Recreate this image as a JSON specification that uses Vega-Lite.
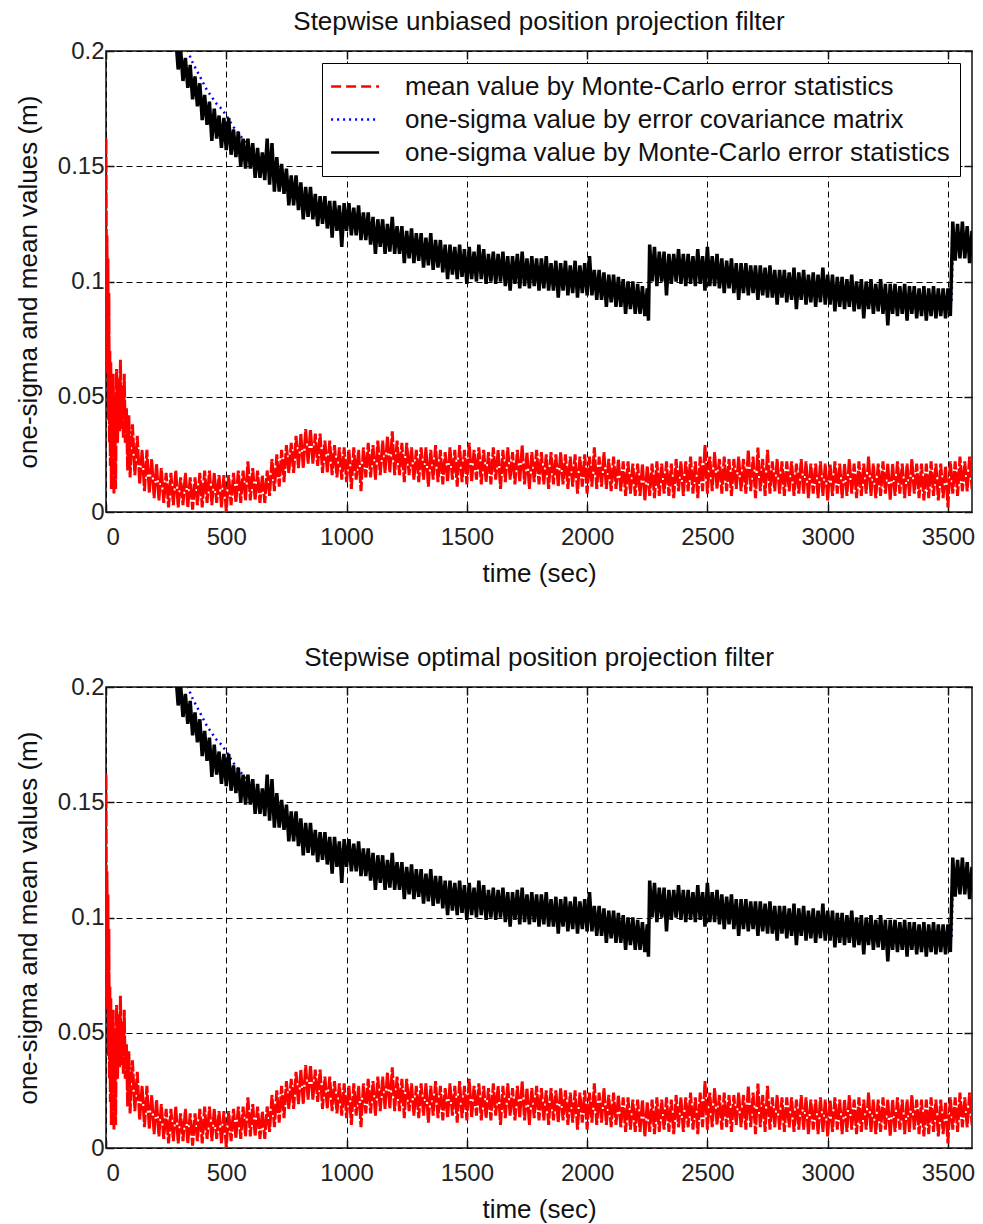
{
"$schema": "https://vega.github.io/schema/vega-lite/v6.json",
"padding": {"left": 14, "top": 8, "right": 5, "bottom": 5},
"config": {
  "font": "Liberation Sans",
  "view": {"stroke": "#111", "strokeWidth": 1.5},
  "axis": {"labelFontSize": 24, "titleFontSize": 26, "titleFontWeight": "normal", "labelColor": "#222", "titleColor": "#111", "gridColor": "#000", "gridDash": [6,4], "gridOpacity": 1, "gridWidth": 1, "tickColor": "#111", "tickSize": -8, "tickWidth": 1.5, "domain": false},
  "title": {"fontSize": 26, "fontWeight": "normal", "color": "#111", "offset": 4},
  "concat": {"spacing": 57}
},
"datasets": {
"red": [{"t":0,"v":0.162},{"t":2,"v":0.100},{"t":4,"v":0.120},{"t":6,"v":0.060},{"t":8,"v":0.110},{"t":10,"v":0.040},{"t":12,"v":0.095},{"t":14,"v":0.030},{"t":16,"v":0.070},{"t":18,"v":0.020},{"t":20,"v":0.065},{"t":22,"v":0.010},{"t":25,"v":0.055},{"t":28,"v":0.025},{"t":30,"v":0.060},{"t":33,"v":0.008},{"t":36,"v":0.050},{"t":40,"v":0.010},{"t":44,"v":0.062},{"t":48,"v":0.030},{"t":52,"v":0.058},{"t":56,"v":0.035},{"t":60,"v":0.066},{"t":64,"v":0.036},{"t":68,"v":0.055},{"t":72,"v":0.032},{"t":76,"v":0.060},{"t":80,"v":0.030},{"t":85,"v":0.045},{"t":90,"v":0.018},{"t":95,"v":0.042},{"t":100,"v":0.015},
{"t":110,"v":0.038},{"t":120,"v":0.016},{"t":130,"v":0.033},{"t":140,"v":0.012},{"t":150,"v":0.027},{"t":160,"v":0.009},{"t":170,"v":0.027},{"t":180,"v":0.008},{"t":190,"v":0.023},{"t":200,"v":0.006},{"t":210,"v":0.021},{"t":220,"v":0.005},{"t":230,"v":0.019},{"t":240,"v":0.004},{"t":250,"v":0.017},{"t":260,"v":0.002},{"t":270,"v":0.017},{"t":280,"v":0.003},{"t":290,"v":0.018},{"t":300,"v":0.002},{"t":310,"v":0.015},{"t":320,"v":0.003},{"t":330,"v":0.017},{"t":340,"v":0.002},{"t":350,"v":0.015},{"t":360,"v":0.001},{"t":370,"v":0.015},{"t":380,"v":0.003},{"t":390,"v":0.017},{"t":400,"v":0.002},{"t":410,"v":0.018},{"t":420,"v":0.004},{"t":430,"v":0.018},{"t":440,"v":0.003},{"t":450,"v":0.017},{"t":460,"v":0.004},{"t":470,"v":0.016},{"t":480,"v":0.002},{"t":490,"v":0.016},{"t":500,"v":0.000},{"t":510,"v":0.016},{"t":520,"v":0.003},{"t":530,"v":0.017},{"t":540,"v":0.004},{"t":550,"v":0.018},{"t":560,"v":0.004},{"t":570,"v":0.018},{"t":580,"v":0.005},{"t":590,"v":0.022},{"t":600,"v":0.005},{"t":610,"v":0.019},{"t":620,"v":0.005},{"t":630,"v":0.018},{"t":640,"v":0.004},{"t":650,"v":0.016},{"t":660,"v":0.004},{"t":670,"v":0.018},{"t":680,"v":0.007},{"t":690,"v":0.023},{"t":700,"v":0.009},{"t":710,"v":0.025},{"t":720,"v":0.011},{"t":730,"v":0.027},{"t":740,"v":0.013},{"t":750,"v":0.029},{"t":760,"v":0.017},{"t":770,"v":0.030},{"t":780,"v":0.017},{"t":790,"v":0.033},{"t":800,"v":0.019},{"t":810,"v":0.034},{"t":820,"v":0.019},{"t":830,"v":0.036},{"t":840,"v":0.021},{"t":850,"v":0.036},{"t":860,"v":0.021},{"t":870,"v":0.034},{"t":880,"v":0.020},{"t":890,"v":0.034},{"t":900,"v":0.017},{"t":910,"v":0.031},{"t":920,"v":0.017},{"t":930,"v":0.031},{"t":940,"v":0.016},{"t":950,"v":0.029},{"t":960,"v":0.015},{"t":970,"v":0.028},{"t":980,"v":0.014},{"t":990,"v":0.028},{"t":1000,"v":0.013},{"t":1010,"v":0.027},{"t":1020,"v":0.010},{"t":1030,"v":0.028},{"t":1040,"v":0.014},{"t":1050,"v":0.027},{"t":1060,"v":0.009},{"t":1070,"v":0.028},{"t":1080,"v":0.015},{"t":1090,"v":0.030},{"t":1100,"v":0.015},{"t":1110,"v":0.029},{"t":1120,"v":0.014},{"t":1130,"v":0.031},{"t":1140,"v":0.016},{"t":1150,"v":0.031},{"t":1160,"v":0.017},{"t":1170,"v":0.033},{"t":1180,"v":0.017},{"t":1190,"v":0.035},{"t":1200,"v":0.016},{"t":1210,"v":0.031},{"t":1220,"v":0.016},{"t":1230,"v":0.030},{"t":1240,"v":0.013},{"t":1250,"v":0.030},{"t":1260,"v":0.016},{"t":1270,"v":0.028},{"t":1280,"v":0.014},{"t":1290,"v":0.027},{"t":1300,"v":0.013},{"t":1310,"v":0.028},{"t":1320,"v":0.014},{"t":1330,"v":0.028},{"t":1340,"v":0.011},{"t":1350,"v":0.027},{"t":1360,"v":0.014},{"t":1370,"v":0.029},{"t":1380,"v":0.013},{"t":1390,"v":0.027},{"t":1400,"v":0.012},{"t":1410,"v":0.026},{"t":1420,"v":0.013},{"t":1430,"v":0.028},{"t":1440,"v":0.014},{"t":1450,"v":0.027},{"t":1460,"v":0.011},{"t":1470,"v":0.029},{"t":1480,"v":0.013},{"t":1490,"v":0.027},{"t":1500,"v":0.012},{"t":1510,"v":0.030},{"t":1520,"v":0.013},{"t":1530,"v":0.027},{"t":1540,"v":0.014},{"t":1550,"v":0.028},{"t":1560,"v":0.012},{"t":1570,"v":0.027},{"t":1580,"v":0.013},{"t":1590,"v":0.026},{"t":1600,"v":0.012},{"t":1610,"v":0.028},{"t":1620,"v":0.014},{"t":1630,"v":0.027},{"t":1640,"v":0.010},{"t":1650,"v":0.027},{"t":1660,"v":0.013},{"t":1670,"v":0.028},{"t":1680,"v":0.014},{"t":1690,"v":0.026},{"t":1700,"v":0.012},{"t":1710,"v":0.027},{"t":1720,"v":0.013},{"t":1730,"v":0.029},{"t":1740,"v":0.012},{"t":1750,"v":0.026},{"t":1760,"v":0.010},{"t":1770,"v":0.026},{"t":1780,"v":0.013},{"t":1790,"v":0.027},{"t":1800,"v":0.012},{"t":1810,"v":0.026},{"t":1820,"v":0.012},{"t":1830,"v":0.025},{"t":1840,"v":0.010},{"t":1850,"v":0.026},{"t":1860,"v":0.012},{"t":1870,"v":0.025},{"t":1880,"v":0.011},{"t":1890,"v":0.026},{"t":1900,"v":0.012},{"t":1910,"v":0.025},{"t":1920,"v":0.010},{"t":1930,"v":0.024},{"t":1940,"v":0.011},{"t":1950,"v":0.025},{"t":1960,"v":0.008},{"t":1970,"v":0.024},{"t":1980,"v":0.011},{"t":1990,"v":0.025},{"t":2000,"v":0.008},{"t":2010,"v":0.024},{"t":2020,"v":0.011},{"t":2030,"v":0.028},{"t":2040,"v":0.010},{"t":2050,"v":0.024},{"t":2060,"v":0.011},{"t":2070,"v":0.026},{"t":2080,"v":0.010},{"t":2090,"v":0.023},{"t":2100,"v":0.009},{"t":2110,"v":0.024},{"t":2120,"v":0.010},{"t":2130,"v":0.023},{"t":2140,"v":0.009},{"t":2150,"v":0.022},{"t":2160,"v":0.007},{"t":2170,"v":0.022},{"t":2180,"v":0.008},{"t":2190,"v":0.021},{"t":2200,"v":0.007},{"t":2210,"v":0.021},{"t":2220,"v":0.007},{"t":2230,"v":0.021},{"t":2240,"v":0.005},{"t":2250,"v":0.020},{"t":2260,"v":0.007},{"t":2270,"v":0.021},{"t":2280,"v":0.006},{"t":2290,"v":0.022},{"t":2300,"v":0.007},{"t":2310,"v":0.021},{"t":2320,"v":0.008},{"t":2330,"v":0.022},{"t":2340,"v":0.007},{"t":2350,"v":0.021},{"t":2360,"v":0.006},{"t":2370,"v":0.023},{"t":2380,"v":0.009},{"t":2390,"v":0.022},{"t":2400,"v":0.007},{"t":2410,"v":0.022},{"t":2420,"v":0.009},{"t":2430,"v":0.024},{"t":2440,"v":0.008},{"t":2450,"v":0.022},{"t":2460,"v":0.006},{"t":2470,"v":0.024},{"t":2480,"v":0.009},{"t":2490,"v":0.029},{"t":2500,"v":0.008},{"t":2510,"v":0.024},{"t":2520,"v":0.009},{"t":2530,"v":0.026},{"t":2540,"v":0.010},{"t":2550,"v":0.023},{"t":2560,"v":0.008},{"t":2570,"v":0.024},{"t":2580,"v":0.009},{"t":2590,"v":0.023},{"t":2600,"v":0.007},{"t":2610,"v":0.023},{"t":2620,"v":0.010},{"t":2630,"v":0.024},{"t":2640,"v":0.009},{"t":2650,"v":0.023},{"t":2660,"v":0.008},{"t":2670,"v":0.027},{"t":2680,"v":0.009},{"t":2690,"v":0.024},{"t":2700,"v":0.006},{"t":2710,"v":0.028},{"t":2720,"v":0.009},{"t":2730,"v":0.023},{"t":2740,"v":0.007},{"t":2750,"v":0.027},{"t":2760,"v":0.008},{"t":2770,"v":0.022},{"t":2780,"v":0.009},{"t":2790,"v":0.023},{"t":2800,"v":0.008},{"t":2810,"v":0.022},{"t":2820,"v":0.007},{"t":2830,"v":0.022},{"t":2840,"v":0.009},{"t":2850,"v":0.022},{"t":2860,"v":0.007},{"t":2870,"v":0.021},{"t":2880,"v":0.008},{"t":2890,"v":0.023},{"t":2900,"v":0.008},{"t":2910,"v":0.022},{"t":2920,"v":0.006},{"t":2930,"v":0.021},{"t":2940,"v":0.008},{"t":2950,"v":0.021},{"t":2960,"v":0.006},{"t":2970,"v":0.022},{"t":2980,"v":0.007},{"t":2990,"v":0.021},{"t":3000,"v":0.005},{"t":3010,"v":0.021},{"t":3020,"v":0.007},{"t":3030,"v":0.022},{"t":3040,"v":0.008},{"t":3050,"v":0.021},{"t":3060,"v":0.006},{"t":3070,"v":0.021},{"t":3080,"v":0.007},{"t":3090,"v":0.023},{"t":3100,"v":0.008},{"t":3110,"v":0.021},{"t":3120,"v":0.006},{"t":3130,"v":0.022},{"t":3140,"v":0.007},{"t":3150,"v":0.021},{"t":3160,"v":0.008},{"t":3170,"v":0.024},{"t":3180,"v":0.007},{"t":3190,"v":0.021},{"t":3200,"v":0.006},{"t":3210,"v":0.021},{"t":3220,"v":0.007},{"t":3230,"v":0.022},{"t":3240,"v":0.008},{"t":3250,"v":0.021},{"t":3260,"v":0.005},{"t":3270,"v":0.021},{"t":3280,"v":0.007},{"t":3290,"v":0.022},{"t":3300,"v":0.008},{"t":3310,"v":0.021},{"t":3320,"v":0.006},{"t":3330,"v":0.021},{"t":3340,"v":0.007},{"t":3350,"v":0.023},{"t":3360,"v":0.008},{"t":3370,"v":0.021},{"t":3380,"v":0.006},{"t":3390,"v":0.021},{"t":3400,"v":0.005},{"t":3410,"v":0.021},{"t":3420,"v":0.006},{"t":3430,"v":0.022},{"t":3440,"v":0.007},{"t":3450,"v":0.021},{"t":3460,"v":0.005},{"t":3470,"v":0.021},{"t":3480,"v":0.006},{"t":3490,"v":0.020},{"t":3500,"v":0.002},{"t":3510,"v":0.022},{"t":3520,"v":0.008},{"t":3530,"v":0.022},{"t":3540,"v":0.007},{"t":3550,"v":0.024},{"t":3560,"v":0.009},{"t":3570,"v":0.022},{"t":3580,"v":0.009},{"t":3590,"v":0.024},{"t":3600,"v":0.010}],
"blue": [{"t":300,"v":0.210},{"t":320,"v":0.205},{"t":340,"v":0.200},{"t":360,"v":0.195},{"t":380,"v":0.191},{"t":400,"v":0.187},{"t":420,"v":0.183},{"t":440,"v":0.180},{"t":460,"v":0.177},{"t":480,"v":0.175},{"t":500,"v":0.172},{"t":530,"v":0.167},{"t":560,"v":0.163},{"t":600,"v":0.158},{"t":650,"v":0.153},{"t":700,"v":0.149},{"t":800,"v":0.141},{"t":900,"v":0.134},{"t":1000,"v":0.128},{"t":1100,"v":0.123},{"t":1200,"v":0.119},{"t":1300,"v":0.115},{"t":1400,"v":0.111},{"t":1500,"v":0.108},{"t":1600,"v":0.106},{"t":1700,"v":0.105},{"t":1800,"v":0.103},{"t":1900,"v":0.101},{"t":2000,"v":0.099},{"t":2100,"v":0.097},{"t":2200,"v":0.095},{"t":2255,"v":0.093},{"t":2260,"v":0.106},{"t":2400,"v":0.105},{"t":2600,"v":0.102},{"t":2800,"v":0.099},{"t":3000,"v":0.097},{"t":3200,"v":0.094},{"t":3400,"v":0.092},{"t":3515,"v":0.090},{"t":3520,"v":0.115},{"t":3600,"v":0.114}],
"black": [{"t":290,"v":0.206},{"t":300,"v":0.192},{"t":310,"v":0.201},{"t":320,"v":0.187},{"t":330,"v":0.197},{"t":340,"v":0.184},{"t":350,"v":0.194},{"t":360,"v":0.179},{"t":370,"v":0.189},{"t":380,"v":0.176},{"t":390,"v":0.186},{"t":400,"v":0.170},{"t":410,"v":0.181},{"t":420,"v":0.168},{"t":430,"v":0.178},{"t":440,"v":0.161},{"t":450,"v":0.175},{"t":460,"v":0.162},{"t":470,"v":0.172},{"t":480,"v":0.158},{"t":490,"v":0.171},{"t":500,"v":0.157},{"t":510,"v":0.171},{"t":520,"v":0.155},{"t":530,"v":0.166},{"t":540,"v":0.154},{"t":550,"v":0.165},{"t":560,"v":0.150},{"t":570,"v":0.162},{"t":580,"v":0.149},{"t":590,"v":0.162},{"t":600,"v":0.149},{"t":610,"v":0.160},{"t":620,"v":0.145},{"t":630,"v":0.158},{"t":640,"v":0.145},{"t":650,"v":0.156},{"t":660,"v":0.144},{"t":670,"v":0.162},{"t":680,"v":0.142},{"t":690,"v":0.160},{"t":700,"v":0.139},{"t":710,"v":0.154},{"t":720,"v":0.139},{"t":730,"v":0.151},{"t":740,"v":0.138},{"t":750,"v":0.149},{"t":760,"v":0.133},{"t":770,"v":0.146},{"t":780,"v":0.133},{"t":790,"v":0.146},{"t":800,"v":0.131},{"t":810,"v":0.143},{"t":820,"v":0.127},{"t":830,"v":0.141},{"t":840,"v":0.128},{"t":850,"v":0.141},{"t":860,"v":0.127},{"t":870,"v":0.138},{"t":880,"v":0.124},{"t":890,"v":0.137},{"t":900,"v":0.125},{"t":910,"v":0.137},{"t":920,"v":0.123},{"t":930,"v":0.135},{"t":940,"v":0.119},{"t":950,"v":0.135},{"t":960,"v":0.122},{"t":970,"v":0.133},{"t":980,"v":0.115},{"t":990,"v":0.134},{"t":1000,"v":0.122},{"t":1010,"v":0.134},{"t":1020,"v":0.120},{"t":1030,"v":0.132},{"t":1040,"v":0.120},{"t":1050,"v":0.133},{"t":1060,"v":0.118},{"t":1070,"v":0.130},{"t":1080,"v":0.118},{"t":1090,"v":0.130},{"t":1100,"v":0.116},{"t":1110,"v":0.128},{"t":1120,"v":0.112},{"t":1130,"v":0.127},{"t":1140,"v":0.115},{"t":1150,"v":0.127},{"t":1160,"v":0.112},{"t":1170,"v":0.125},{"t":1180,"v":0.113},{"t":1190,"v":0.128},{"t":1200,"v":0.112},{"t":1210,"v":0.124},{"t":1220,"v":0.112},{"t":1230,"v":0.124},{"t":1240,"v":0.108},{"t":1250,"v":0.122},{"t":1260,"v":0.110},{"t":1270,"v":0.123},{"t":1280,"v":0.108},{"t":1290,"v":0.121},{"t":1300,"v":0.109},{"t":1310,"v":0.121},{"t":1320,"v":0.106},{"t":1330,"v":0.119},{"t":1340,"v":0.107},{"t":1350,"v":0.121},{"t":1360,"v":0.105},{"t":1370,"v":0.118},{"t":1380,"v":0.106},{"t":1390,"v":0.118},{"t":1400,"v":0.104},{"t":1410,"v":0.116},{"t":1420,"v":0.101},{"t":1430,"v":0.116},{"t":1440,"v":0.103},{"t":1450,"v":0.115},{"t":1460,"v":0.101},{"t":1470,"v":0.116},{"t":1480,"v":0.102},{"t":1490,"v":0.114},{"t":1500,"v":0.099},{"t":1510,"v":0.115},{"t":1520,"v":0.101},{"t":1530,"v":0.113},{"t":1540,"v":0.100},{"t":1550,"v":0.116},{"t":1560,"v":0.101},{"t":1570,"v":0.114},{"t":1580,"v":0.099},{"t":1590,"v":0.112},{"t":1600,"v":0.100},{"t":1610,"v":0.113},{"t":1620,"v":0.099},{"t":1630,"v":0.112},{"t":1640,"v":0.100},{"t":1650,"v":0.113},{"t":1660,"v":0.098},{"t":1670,"v":0.111},{"t":1680,"v":0.096},{"t":1690,"v":0.111},{"t":1700,"v":0.099},{"t":1710,"v":0.112},{"t":1720,"v":0.097},{"t":1730,"v":0.113},{"t":1740,"v":0.098},{"t":1750,"v":0.110},{"t":1760,"v":0.097},{"t":1770,"v":0.111},{"t":1780,"v":0.098},{"t":1790,"v":0.110},{"t":1800,"v":0.096},{"t":1810,"v":0.110},{"t":1820,"v":0.097},{"t":1830,"v":0.111},{"t":1840,"v":0.096},{"t":1850,"v":0.108},{"t":1860,"v":0.096},{"t":1870,"v":0.109},{"t":1880,"v":0.093},{"t":1890,"v":0.108},{"t":1900,"v":0.096},{"t":1910,"v":0.109},{"t":1920,"v":0.094},{"t":1930,"v":0.107},{"t":1940,"v":0.095},{"t":1950,"v":0.109},{"t":1960,"v":0.093},{"t":1970,"v":0.107},{"t":1980,"v":0.095},{"t":1990,"v":0.108},{"t":2000,"v":0.094},{"t":2010,"v":0.111},{"t":2020,"v":0.094},{"t":2030,"v":0.105},{"t":2040,"v":0.092},{"t":2050,"v":0.105},{"t":2060,"v":0.092},{"t":2070,"v":0.104},{"t":2080,"v":0.089},{"t":2090,"v":0.103},{"t":2100,"v":0.091},{"t":2110,"v":0.103},{"t":2120,"v":0.089},{"t":2130,"v":0.102},{"t":2140,"v":0.089},{"t":2150,"v":0.101},{"t":2160,"v":0.086},{"t":2170,"v":0.100},{"t":2180,"v":0.088},{"t":2190,"v":0.100},{"t":2200,"v":0.086},{"t":2210,"v":0.099},{"t":2220,"v":0.086},{"t":2230,"v":0.098},{"t":2240,"v":0.085},{"t":2250,"v":0.097},{"t":2255,"v":0.083},{"t":2260,"v":0.116},{"t":2270,"v":0.100},{"t":2280,"v":0.115},{"t":2290,"v":0.098},{"t":2300,"v":0.113},{"t":2310,"v":0.100},{"t":2320,"v":0.113},{"t":2330,"v":0.094},{"t":2340,"v":0.112},{"t":2350,"v":0.099},{"t":2360,"v":0.112},{"t":2370,"v":0.100},{"t":2380,"v":0.114},{"t":2390,"v":0.099},{"t":2400,"v":0.112},{"t":2410,"v":0.098},{"t":2420,"v":0.112},{"t":2430,"v":0.099},{"t":2440,"v":0.111},{"t":2450,"v":0.098},{"t":2460,"v":0.114},{"t":2470,"v":0.099},{"t":2480,"v":0.111},{"t":2490,"v":0.096},{"t":2500,"v":0.115},{"t":2510,"v":0.098},{"t":2520,"v":0.111},{"t":2530,"v":0.098},{"t":2540,"v":0.112},{"t":2550,"v":0.097},{"t":2560,"v":0.110},{"t":2570,"v":0.095},{"t":2580,"v":0.109},{"t":2590,"v":0.097},{"t":2600,"v":0.110},{"t":2610,"v":0.095},{"t":2620,"v":0.108},{"t":2630,"v":0.092},{"t":2640,"v":0.108},{"t":2650,"v":0.095},{"t":2660,"v":0.108},{"t":2670,"v":0.094},{"t":2680,"v":0.107},{"t":2690,"v":0.095},{"t":2700,"v":0.107},{"t":2710,"v":0.092},{"t":2720,"v":0.107},{"t":2730,"v":0.094},{"t":2740,"v":0.106},{"t":2750,"v":0.093},{"t":2760,"v":0.107},{"t":2770,"v":0.093},{"t":2780,"v":0.105},{"t":2790,"v":0.090},{"t":2800,"v":0.105},{"t":2810,"v":0.093},{"t":2820,"v":0.105},{"t":2830,"v":0.091},{"t":2840,"v":0.104},{"t":2850,"v":0.092},{"t":2860,"v":0.106},{"t":2870,"v":0.088},{"t":2880,"v":0.104},{"t":2890,"v":0.092},{"t":2900,"v":0.105},{"t":2910,"v":0.090},{"t":2920,"v":0.103},{"t":2930,"v":0.091},{"t":2940,"v":0.104},{"t":2950,"v":0.089},{"t":2960,"v":0.103},{"t":2970,"v":0.091},{"t":2980,"v":0.106},{"t":2990,"v":0.090},{"t":3000,"v":0.103},{"t":3010,"v":0.090},{"t":3020,"v":0.103},{"t":3030,"v":0.087},{"t":3040,"v":0.102},{"t":3050,"v":0.089},{"t":3060,"v":0.102},{"t":3070,"v":0.088},{"t":3080,"v":0.101},{"t":3090,"v":0.089},{"t":3100,"v":0.103},{"t":3110,"v":0.087},{"t":3120,"v":0.100},{"t":3130,"v":0.088},{"t":3140,"v":0.101},{"t":3150,"v":0.084},{"t":3160,"v":0.100},{"t":3170,"v":0.088},{"t":3180,"v":0.101},{"t":3190,"v":0.086},{"t":3200,"v":0.099},{"t":3210,"v":0.087},{"t":3220,"v":0.101},{"t":3230,"v":0.086},{"t":3240,"v":0.099},{"t":3250,"v":0.081},{"t":3260,"v":0.099},{"t":3270,"v":0.086},{"t":3280,"v":0.099},{"t":3290,"v":0.085},{"t":3300,"v":0.098},{"t":3310,"v":0.086},{"t":3320,"v":0.099},{"t":3330,"v":0.083},{"t":3340,"v":0.098},{"t":3350,"v":0.086},{"t":3360,"v":0.098},{"t":3370,"v":0.084},{"t":3380,"v":0.097},{"t":3390,"v":0.085},{"t":3400,"v":0.098},{"t":3410,"v":0.083},{"t":3420,"v":0.097},{"t":3430,"v":0.085},{"t":3440,"v":0.098},{"t":3450,"v":0.084},{"t":3460,"v":0.097},{"t":3470,"v":0.085},{"t":3480,"v":0.097},{"t":3490,"v":0.084},{"t":3500,"v":0.097},{"t":3510,"v":0.085},{"t":3520,"v":0.126},{"t":3530,"v":0.109},{"t":3540,"v":0.125},{"t":3550,"v":0.110},{"t":3560,"v":0.126},{"t":3570,"v":0.110},{"t":3580,"v":0.124},{"t":3590,"v":0.108},{"t":3600,"v":0.122}]
},
"vconcat": [
{
  "title": "Stepwise unbiased position projection filter",
  "width": 866, "height": 461,
  "layer": [
    {"data": {"name": "red"},
     "mark": {"type": "line", "strokeWidth": 3, "strokeDash": [16,2], "clip": true},
     "encoding": {
       "x": {"field": "t", "type": "quantitative", "scale": {"domain": [0,3600], "nice": false}, "axis": {"values": [0,500,1000,1500,2000,2500,3000,3500], "format": "d", "grid": true, "title": "time (sec)", "labelPadding": 21, "titlePadding": 11}},
       "y": {"field": "v", "type": "quantitative", "scale": {"domain": [0,0.2], "nice": false}, "axis": {"values": [0,0.05,0.1,0.15,0.2], "format": "~g", "grid": true, "title": "one-sigma and mean values (m)", "labelPadding": 10, "titlePadding": 16}},
       "color": {"datum": "mean value by Monte-Carlo error statistics", "type": "nominal",
         "scale": {"domain": ["mean value by Monte-Carlo error statistics", "one-sigma value by error covariance matrix", "\u00a0one-sigma value by Monte-Carlo error statistics"], "range": ["#ff0000", "#0000ff", "#000000"]},
         "legend": {"orient": "top-right", "offset": 12, "title": null, "labelFontSize": 26, "labelColor": "#111", "labelLimit": 1000, "symbolType": "M-1.2,0H2.8", "symbolSize": 576, "symbolStrokeWidth": 2.5, "labelOffset": 46, "padding": 10, "rowPadding": 6, "strokeColor": "#000", "fillColor": "#fff",
           "encode": {"symbols": {"update": {"strokeDash": {"signal": "datum.value === 'mean value by Monte-Carlo error statistics' ? [10,5] : (datum.value === 'one-sigma value by error covariance matrix' ? [2,4] : [1,0])"}}}}}}
     }},
    {"data": {"name": "blue"},
     "mark": {"type": "line", "strokeWidth": 2.5, "strokeDash": [2,4], "clip": true},
     "encoding": {
       "x": {"field": "t", "type": "quantitative", "axis": {"orient": "top", "values": [0,500,1000,1500,2000,2500,3000,3500], "labels": false, "grid": false, "title": null}},
       "y": {"field": "v", "type": "quantitative", "axis": {"orient": "right", "values": [0,0.05,0.1,0.15,0.2], "labels": false, "grid": false, "title": null}},
       "color": {"datum": "one-sigma value by error covariance matrix", "type": "nominal"}
     }},
    {"data": {"name": "black"},
     "mark": {"type": "line", "strokeWidth": 3.5, "clip": true},
     "encoding": {
       "x": {"field": "t", "type": "quantitative", "axis": null},
       "y": {"field": "v", "type": "quantitative", "axis": null},
       "color": {"datum": "\u00a0one-sigma value by Monte-Carlo error statistics", "type": "nominal"}
     }}
  ],
  "resolve": {"axis": {"x": "independent", "y": "independent"}}
},
{
  "title": "Stepwise optimal position projection filter",
  "width": 866, "height": 461,
  "layer": [
    {"data": {"name": "red"},
     "mark": {"type": "line", "strokeWidth": 3, "strokeDash": [16,2], "clip": true, "color": "#ff0000"},
     "encoding": {
       "x": {"field": "t", "type": "quantitative", "scale": {"domain": [0,3600], "nice": false}, "axis": {"values": [0,500,1000,1500,2000,2500,3000,3500], "format": "d", "grid": true, "title": "time (sec)", "labelPadding": 21, "titlePadding": 11}},
       "y": {"field": "v", "type": "quantitative", "scale": {"domain": [0,0.2], "nice": false}, "axis": {"values": [0,0.05,0.1,0.15,0.2], "format": "~g", "grid": true, "title": "one-sigma and mean values (m)", "labelPadding": 10, "titlePadding": 16}}
     }},
    {"data": {"name": "blue"},
     "mark": {"type": "line", "strokeWidth": 2.5, "strokeDash": [2,4], "clip": true, "color": "#0000ff"},
     "encoding": {
       "x": {"field": "t", "type": "quantitative", "axis": {"orient": "top", "values": [0,500,1000,1500,2000,2500,3000,3500], "labels": false, "grid": false, "title": null}},
       "y": {"field": "v", "type": "quantitative", "axis": {"orient": "right", "values": [0,0.05,0.1,0.15,0.2], "labels": false, "grid": false, "title": null}}
     }},
    {"data": {"name": "black"},
     "mark": {"type": "line", "strokeWidth": 3.5, "clip": true, "color": "#000000"},
     "encoding": {
       "x": {"field": "t", "type": "quantitative", "axis": null},
       "y": {"field": "v", "type": "quantitative", "axis": null}
     }}
  ],
  "resolve": {"axis": {"x": "independent", "y": "independent"}}
}
],
"resolve": {"scale": {"color": "independent"}, "legend": {"color": "independent"}}
}
